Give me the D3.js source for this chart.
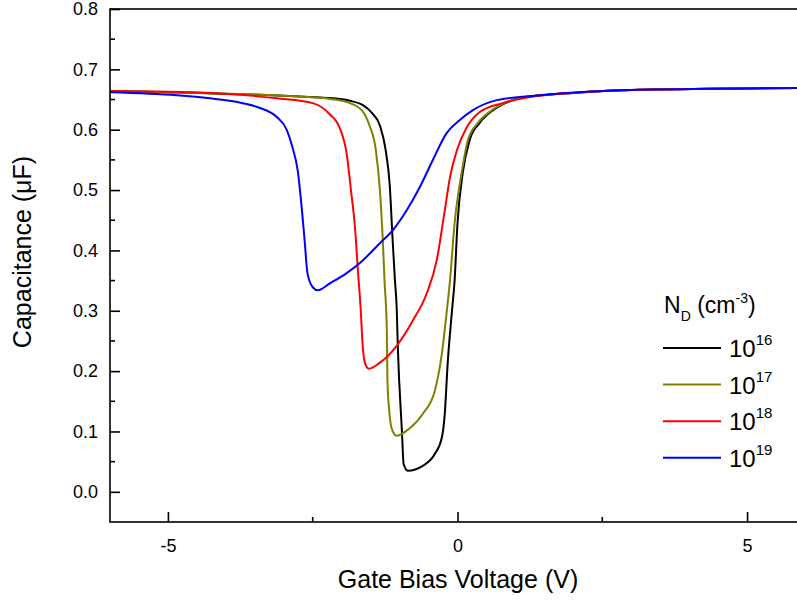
<!DOCTYPE html>
<html>
<head>
<meta charset="utf-8">
<script src="https://cdn.jsdelivr.net/npm/d3@7"></script>
<style>
  body { margin: 0; background: #fff; }
  svg text { font-family: "Liberation Sans", Arial, sans-serif; fill: #000; }
</style>
</head>
<body>
<svg id="chart" width="797" height="600"></svg>
<script>
// doping levels, colours and legend exponents
const dopings = ["16", "17", "18", "19"];
const colors = ["#000000", "#808000", "#ff0000", "#0000ff"];

// C-V curves: [gate bias (V), capacitance (uF)]
const curve16 = [
    [-6.0, 0.664], [-4.45, 0.661], [-2.73, 0.655], [-2.15, 0.652], [-1.86, 0.648],
    [-1.64, 0.641], [-1.47, 0.627], [-1.34, 0.607], [-1.24, 0.566], [-1.17, 0.508],
    [-1.12, 0.417], [-1.08, 0.350], [-1.05, 0.305], [-1.03, 0.239], [-0.96, 0.101],
    [-0.93, 0.046], [-0.86, 0.035], [-0.60, 0.043], [-0.39, 0.063], [-0.27, 0.090],
    [-0.22, 0.129], [-0.17, 0.212], [-0.10, 0.295], [-0.05, 0.350], [0.00, 0.445],
    [0.09, 0.528], [0.21, 0.583], [0.38, 0.611], [0.61, 0.632], [0.95, 0.649],
    [1.42, 0.657], [1.99, 0.661], [3.15, 0.666], [6.0, 0.669]
];
const curve17 = [
    [-6.0, 0.664], [-4.45, 0.661], [-2.73, 0.655], [-2.20, 0.651], [-1.86, 0.644],
    [-1.65, 0.632], [-1.52, 0.607], [-1.41, 0.566], [-1.34, 0.500], [-1.29, 0.417],
    [-1.26, 0.350], [-1.22, 0.267], [-1.21, 0.184], [-1.17, 0.126], [-1.14, 0.106],
    [-1.05, 0.093], [-0.83, 0.105], [-0.60, 0.129], [-0.39, 0.168], [-0.27, 0.229],
    [-0.19, 0.295], [-0.13, 0.350], [-0.05, 0.445], [0.07, 0.528], [0.18, 0.583],
    [0.35, 0.611], [0.59, 0.632], [0.95, 0.649], [1.42, 0.657], [1.99, 0.661],
    [3.15, 0.666], [6.0, 0.669]
];
const curve18 = [
    [-6.0, 0.664], [-4.28, 0.661], [-3.12, 0.652], [-2.50, 0.644], [-2.21, 0.626],
    [-2.03, 0.602], [-1.91, 0.558], [-1.84, 0.500], [-1.77, 0.438], [-1.72, 0.367],
    [-1.67, 0.300], [-1.64, 0.246], [-1.59, 0.211], [-1.53, 0.204], [-1.34, 0.214],
    [-1.05, 0.242], [-0.77, 0.284], [-0.53, 0.329], [-0.36, 0.383], [-0.22, 0.466],
    [-0.13, 0.521], [-0.01, 0.566], [0.16, 0.604], [0.38, 0.629], [0.78, 0.644],
    [1.25, 0.654], [1.99, 0.661], [3.15, 0.666], [6.0, 0.669]
];
const curve19 = [
    [-6.0, 0.662], [-4.85, 0.657], [-4.28, 0.652], [-3.71, 0.644], [-3.41, 0.636],
    [-3.12, 0.621], [-2.95, 0.600], [-2.85, 0.571], [-2.76, 0.533], [-2.69, 0.471],
    [-2.64, 0.417], [-2.59, 0.362], [-2.50, 0.339], [-2.41, 0.334], [-2.21, 0.345],
    [-1.92, 0.362], [-1.64, 0.383], [-1.34, 0.412], [-1.12, 0.433], [-0.88, 0.466],
    [-0.65, 0.505], [-0.43, 0.549], [-0.19, 0.594], [0.04, 0.616], [0.26, 0.632],
    [0.68, 0.649], [1.42, 0.657], [3.15, 0.666], [6.0, 0.669]
];
const curves = [curve16, curve17, curve18, curve19];

// tick values
const xTicks = [-5, 0, 5];
const xMinor = [-2.5, 2.5];
const yTicks = [0.0, 0.1, 0.2, 0.3, 0.4, 0.5, 0.6, 0.7, 0.8];
const yMinor = [0.05, 0.15, 0.25, 0.35, 0.45, 0.55, 0.65, 0.75];

let svg = d3.select("#chart");
let plot = {left: 110, top: 9, right: 805, bottom: 522};

let x = d3.scaleLinear().domain([-6, 6]).range([plot.left, plot.right]);
let y = d3.scaleLinear().domain([-0.05, 0.8]).range([plot.bottom, plot.top]);

svg.append("clipPath").attr("id", "clip")
    .append("rect")
    .attr("x", plot.left).attr("y", plot.top)
    .attr("width", plot.right - plot.left).attr("height", plot.bottom - plot.top);

// curves
let line = d3.line()
    .x(d => x(d[0]))
    .y(d => y(d[1]))
    .curve(d3.curveMonotoneX);

svg.append("g").attr("clip-path", "url(#clip)")
    .selectAll("path").data(curves)
    .enter().append("path")
    .attr("d", line)
    .attr("fill", "none")
    .attr("stroke", (d, i) => colors[i])
    .attr("stroke-width", 2);

// frame
svg.append("rect")
    .attr("x", plot.left).attr("y", plot.top)
    .attr("width", plot.right - plot.left).attr("height", plot.bottom - plot.top)
    .attr("fill", "none").attr("stroke", "#000").attr("stroke-width", 1.6);

// axes with inward ticks
let xAxis = svg.append("g")
    .attr("transform", "translate(0," + plot.bottom + ")")
    .call(d3.axisBottom(x).tickValues(xTicks).tickSizeInner(-10).tickSizeOuter(0)
        .tickPadding(17).tickFormat(d => String(d)));
xAxis.selectAll(".tick text").attr("font-size", 18);

xAxis.selectAll(".minor").data(xMinor).enter().append("line")
    .attr("class", "minor")
    .attr("x1", d => x(d)).attr("x2", d => x(d))
    .attr("y1", 0).attr("y2", -5)
    .attr("stroke", "#000");

let yAxis = svg.append("g")
    .attr("transform", "translate(" + plot.left + ",0)")
    .call(d3.axisLeft(y).tickValues(yTicks).tickSizeInner(-10).tickSizeOuter(0)
        .tickPadding(12).tickFormat(d3.format(".1f")));
yAxis.selectAll(".tick text").attr("font-size", 18);

yAxis.selectAll(".minor").data(yMinor).enter().append("line")
    .attr("class", "minor")
    .attr("y1", d => y(d)).attr("y2", d => y(d))
    .attr("x1", 0).attr("x2", 5)
    .attr("stroke", "#000");

svg.selectAll(".domain").remove();
svg.selectAll(".tick line, .minor").attr("stroke-width", 1.6);

// axis titles
svg.append("text")
    .attr("x", 458).attr("y", 588)
    .attr("text-anchor", "middle")
    .attr("font-size", 25)
    .text("Gate Bias Voltage (V)");

svg.append("text")
    .attr("transform", "translate(31,252) rotate(-90)")
    .attr("text-anchor", "middle")
    .attr("font-size", 25)
    .text("Capacitance (\u03bcF)");

// legend
let legend = svg.append("g");
let lt = legend.append("text").attr("x", 664).attr("y", 313).attr("font-size", 23);
lt.append("tspan").text("N");
lt.append("tspan").attr("font-size", 14).attr("dy", 8).text("D");
lt.append("tspan").attr("dy", -8).text(" (cm");
lt.append("tspan").attr("font-size", 14).attr("dy", -10).text("-3");
lt.append("tspan").attr("dy", 10).text(")");

let rows = legend.selectAll(".row").data(dopings).enter().append("g")
    .attr("class", "row")
    .attr("transform", (d, i) => "translate(0," + (348 + i * 36.6) + ")");
rows.append("line")
    .attr("x1", 663).attr("x2", 721)
    .attr("stroke", (d, i) => colors[i])
    .attr("stroke-width", 2);
let lab = rows.append("text").attr("x", 729).attr("y", 9).attr("font-size", 24);
lab.append("tspan").text("10");
lab.append("tspan").attr("font-size", 15).attr("dy", -12).text(d => d);
</script>
</body>
</html>
